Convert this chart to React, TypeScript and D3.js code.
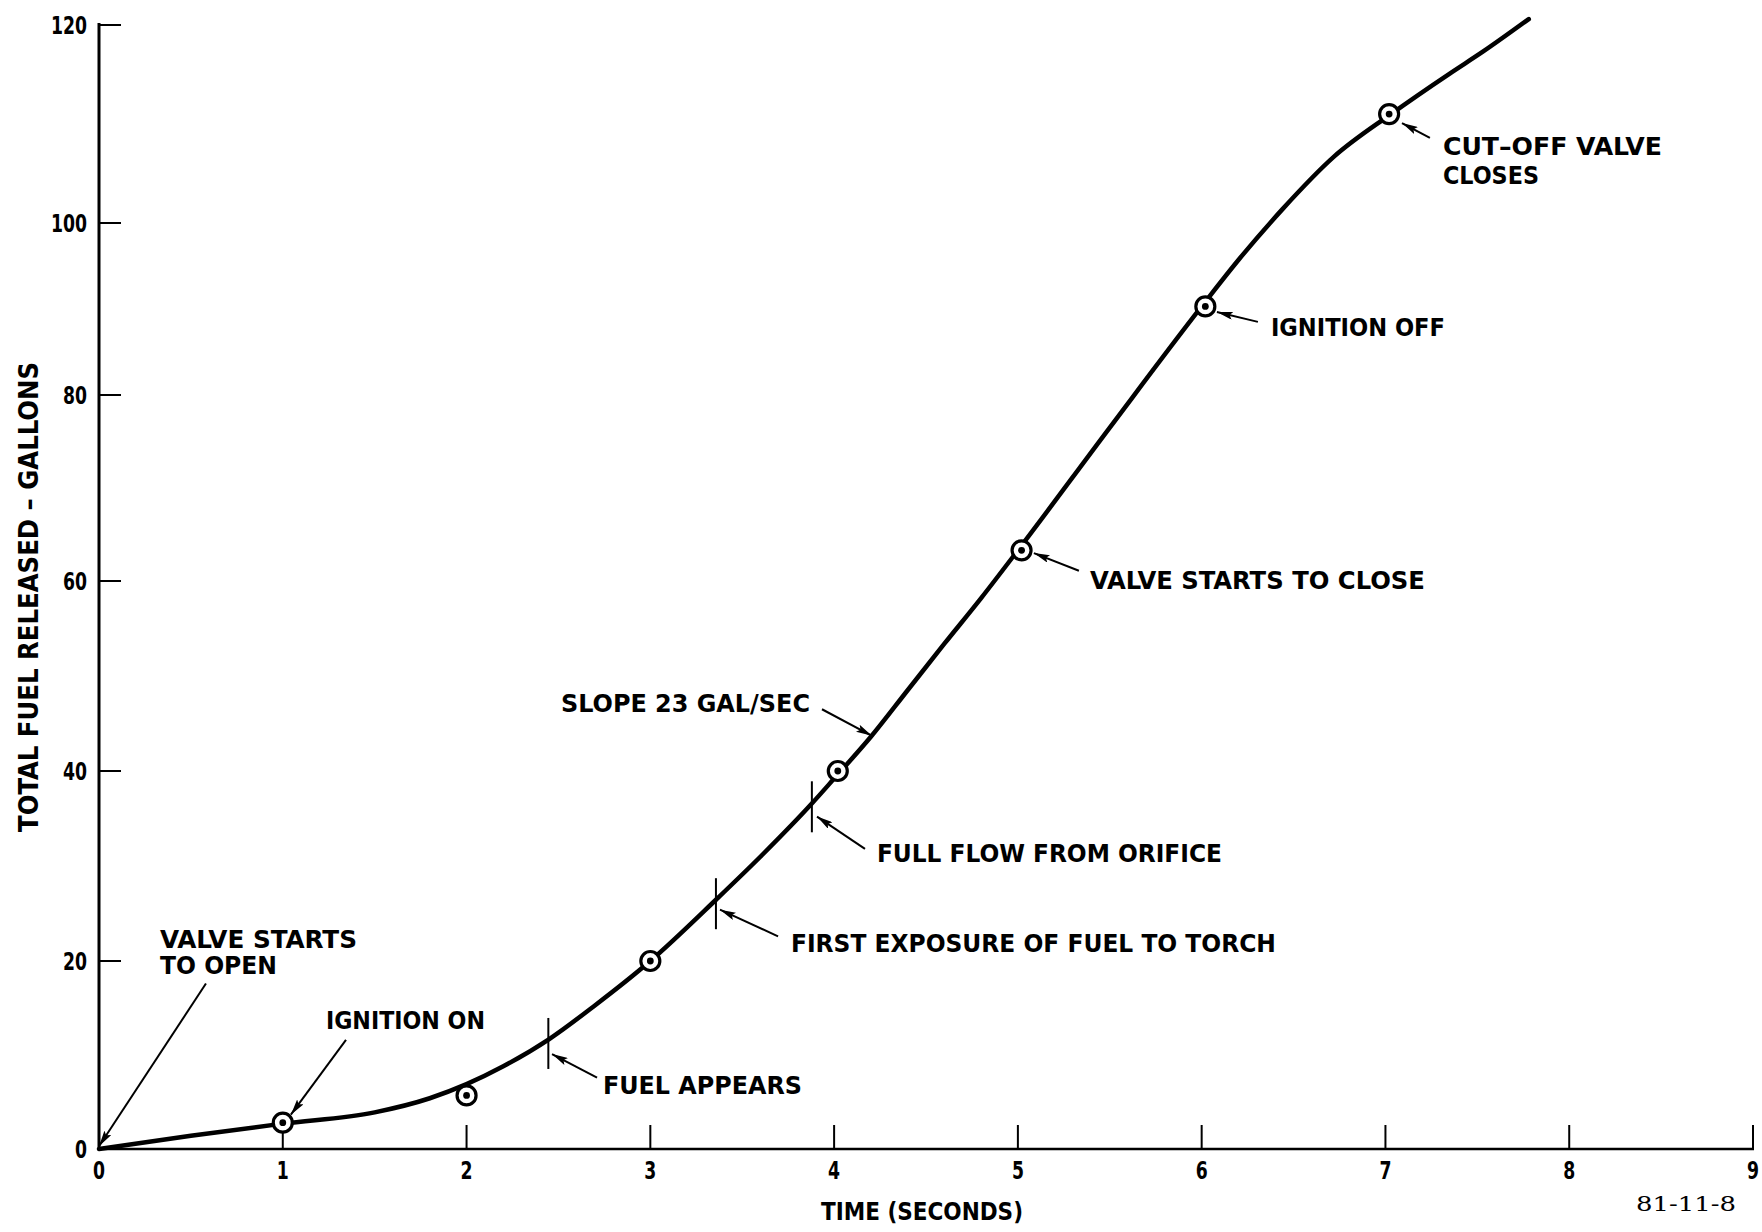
import React from 'react';
import * as d3 from 'd3';

// ---------- data ----------
const timeTicks = [0, 1, 2, 3, 4, 5, 6, 7, 8, 9];
const gallonTicks = [0, 20, 40, 60, 80, 100, 120];

const curveTime = [0, 0.5, 1, 1.5, 1.8, 2.0, 2.2, 2.45, 2.7, 3.0, 3.36, 3.6, 3.88, 4.0, 4.2, 4.4, 4.6, 4.8, 5.0, 5.5, 6.0, 6.2, 6.44, 6.72, 7.03, 7.35, 7.53, 7.78];
const curveGallons = [0, 1.4, 2.7, 3.9, 5.4, 6.9, 8.8, 11.7, 15.3, 20.0, 26.5, 31.0, 36.6, 39.2, 43.6, 48.5, 53.4, 58.2, 63.3, 76.5, 90.3, 95.7, 101.4, 106.7, 111.0, 115.1, 117.3, 120.6];

const markerTime = [1, 2, 3, 4.02, 5.02, 6.02, 7.02];
const markerGallons = [2.8, 5.7, 20, 40, 63.3, 90.3, 111];

const eventTime = [2.445, 3.357, 3.879];
const eventGallons = [11.6, 26.4, 36.6];

const annotationText = [
  ['VALVE STARTS', 'TO OPEN'],
  ['IGNITION ON'],
  ['FUEL APPEARS'],
  ['FIRST EXPOSURE OF FUEL TO TORCH'],
  ['FULL FLOW FROM ORIFICE'],
  ['SLOPE 23 GAL/SEC'],
  ['VALVE STARTS TO CLOSE'],
  ['IGNITION OFF'],
  ['CUT\u2013OFF VALVE', 'CLOSES'],
];

const xTitle = 'TIME (SECONDS)';
const yTitle = 'TOTAL FUEL RELEASED \u2013 GALLONS';
const figureId = '81-11-8';

// ---------- layout (data units for anchor points) ----------
const annotationLayout = [
  { t: 0.332, v: 21.4, gap: 26, widths: [197, 117], from: [0.582, 17.6], to: [0.0, 0.3] },
  { t: 1.235, v: 12.8, gap: 0, widths: [159], from: [1.344, 11.6], to: [1.044, 3.65] },
  { t: 2.742, v: 5.9, gap: 0, widths: [199], from: [2.71, 7.6], to: [2.465, 10.1] },
  { t: 3.765, v: 20.95, gap: 0, widths: [485], from: [3.695, 22.6], to: [3.379, 25.4] },
  { t: 4.233, v: 30.4, gap: 0, widths: [345], from: [4.168, 31.8], to: [3.907, 35.2] },
  { t: 2.514, v: 46.2, gap: 0, widths: [249], from: [3.934, 46.5], to: [4.206, 43.7] },
  { t: 5.392, v: 59.2, gap: 0, widths: [335], from: [5.332, 61.1], to: [5.087, 63.0] },
  { t: 6.377, v: 86.85, gap: 0, widths: [174], from: [6.306, 88.5], to: [6.083, 89.65] },
  { t: 7.313, v: 106.87, gap: 29, widths: [219, 96], from: [7.242, 108.59], to: [7.09, 110.1] },
];

const W = 1762;
const H = 1232;
const FONT = "'DejaVu Sans Condensed', 'DejaVu Sans', sans-serif";

export default function App() {
  const x = d3.scaleLinear().domain([0, 9]).range([99, 1753]);
  // hand-drawn original: tick spacing is slightly uneven, so calibrate per tick
  const y = d3.scaleLinear().domain(gallonTicks).range([1149, 961, 771, 581, 395, 223, 25]);

  const pts = curveTime.map((t, i) => [t, curveGallons[i]] as [number, number]);
  const line = d3
    .line<[number, number]>()
    .x((d) => x(d[0]))
    .y((d) => y(d[1]))
    .curve(d3.curveMonotoneX);

  const y0 = y(0);
  const x0 = x(0);

  return (
    <svg
      width={W}
      height={H}
      viewBox={`0 0 ${W} ${H}`}
      style={{ position: 'absolute', left: 0, top: 0, background: '#fff' }}
    >
      <defs>
        <marker
          id="ah"
          viewBox="0 0 16 8"
          refX={16}
          refY={4}
          markerWidth={16}
          markerHeight={8}
          markerUnits="userSpaceOnUse"
          orient="auto"
        >
          <path d="M0,0 L16,4 L0,8 L3,4 Z" fill="#000" />
        </marker>
      </defs>
      <rect x={0} y={0} width={W} height={H} fill="#fff" />

      {/* axes */}
      <line x1={x0} y1={y(120) - 2} x2={x0} y2={y0 + 1} stroke="#000" strokeWidth={3} />
      <line x1={x0 - 1} y1={y0} x2={x(9) + 1} y2={y0} stroke="#000" strokeWidth={2.5} />

      {gallonTicks.map((g) =>
        g === 0 ? null : (
          <line key={'yt' + g} x1={x0} x2={x0 + 22} y1={y(g)} y2={y(g)} stroke="#000" strokeWidth={2} />
        )
      )}
      {timeTicks.map((t) =>
        t === 0 ? null : (
          <line key={'xt' + t} x1={x(t)} x2={x(t)} y1={y0} y2={y0 - 24} stroke="#000" strokeWidth={2} />
        )
      )}

      {gallonTicks.map((g) => (
        <text
          key={'yl' + g}
          x={x0 - 12}
          y={y(g)}
          dy="0.36em"
          textAnchor="end"
          fontFamily={FONT}
          fontWeight="bold"
          fontSize={25}
          textLength={String(g).length * 12}
          lengthAdjust="spacingAndGlyphs"
        >
          {g}
        </text>
      ))}
      {timeTicks.map((t) => (
        <text
          key={'xl' + t}
          x={x(t)}
          y={y0 + 30}
          textAnchor="middle"
          fontFamily={FONT}
          fontWeight="bold"
          fontSize={25}
          textLength={12}
          lengthAdjust="spacingAndGlyphs"
        >
          {t}
        </text>
      ))}

      <text
        x={x(4.5) - 4}
        y={1220}
        textAnchor="middle"
        fontFamily={FONT}
        fontWeight="bold"
        fontSize={25}
        textLength={202}
        lengthAdjust="spacingAndGlyphs"
      >
        {xTitle}
      </text>
      <text
        transform={`translate(38, ${y(60) + 16}) rotate(-90)`}
        textAnchor="middle"
        fontFamily={FONT}
        fontWeight="bold"
        fontSize={26}
        textLength={470}
        lengthAdjust="spacingAndGlyphs"
      >
        {yTitle}
      </text>
      <text
        x={1636}
        y={1211}
        fontFamily="'DejaVu Serif', 'Liberation Serif', serif"
        fontSize={21}
        textLength={100}
        lengthAdjust="spacingAndGlyphs"
      >
        {figureId}
      </text>

      {/* curve */}
      <path d={line(pts) || ''} fill="none" stroke="#000" strokeWidth={4.5} strokeLinejoin="round" strokeLinecap="round" />

      {/* event ticks crossing the curve */}
      {eventTime.map((t, i) => (
        <line
          key={'ev' + i}
          x1={x(t)}
          x2={x(t)}
          y1={y(eventGallons[i]) - 22}
          y2={y(eventGallons[i]) + 29}
          stroke="#000"
          strokeWidth={2}
        />
      ))}

      {/* circled data points */}
      {markerTime.map((t, i) => (
        <g key={'m' + i}>
          <circle cx={x(t)} cy={y(markerGallons[i])} r={9.5} fill="#fff" stroke="#000" strokeWidth={3.2} />
          <circle cx={x(t)} cy={y(markerGallons[i])} r={3.4} fill="#000" />
        </g>
      ))}

      {/* annotations */}
      {annotationLayout.map((a, i) => (
        <g key={'an' + i}>
          <line
            x1={x(a.from[0])}
            y1={y(a.from[1])}
            x2={x(a.to[0])}
            y2={y(a.to[1])}
            stroke="#000"
            strokeWidth={2}
            markerEnd="url(#ah)"
          />
          {annotationText[i].map((s, j) => (
            <text
              key={j}
              x={x(a.t)}
              y={y(a.v) + j * a.gap}
              fontFamily={FONT}
              fontWeight="bold"
              fontSize={25}
              textLength={a.widths[j]}
              lengthAdjust="spacingAndGlyphs"
            >
              {s}
            </text>
          ))}
        </g>
      ))}
    </svg>
  );
}
